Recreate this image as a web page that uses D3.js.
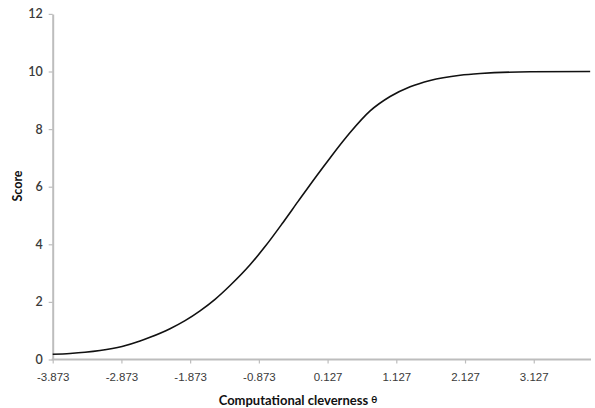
<!DOCTYPE html>
<html>
<head>
<meta charset="utf-8">
<script src="https://cdn.jsdelivr.net/npm/d3@7"></script>
<style>
  html, body { margin: 0; padding: 0; background: #ffffff; }
  svg { display: block; }
</style>
</head>
<body>
<svg id="chart" width="595" height="408"></svg>
<script>
// ---- data ----
const theta = [-3.873, -3.621, -3.403, -3.185, -2.864, -2.602, -2.457, -2.166, -1.947, -1.729,
               -1.511, -1.292, -1.001, -0.783, -0.521, -0.302, -0.026, 0.163, 0.455, 0.746,
               1.037, 1.328, 1.619, 2.056, 2.347, 3.075, 3.948];
const score = [0.18, 0.21, 0.25, 0.31, 0.45, 0.64, 0.77, 1.07, 1.35, 1.69,
               2.09, 2.57, 3.29, 3.92, 4.76, 5.49, 6.40, 7.00, 7.88, 8.63,
               9.13, 9.47, 9.69, 9.87, 9.93, 9.99, 10.00];
const xTickValues = [-3.873, -2.873, -1.873, -0.873, 0.127, 1.127, 2.127, 3.127];
const xTickLabels = ["-3.873", "-2.873", "-1.873", "-0.873", "0.127", "1.127", "2.127", "3.127"];
const yTickValues = [0, 2, 4, 6, 8, 10, 12];
const xTitle = "Computational cleverness";
const xTitleSymbol = "θ";
const yTitle = "Score";

// ---- layout ----
const svg = d3.select("#chart");
const x = d3.scaleLinear().domain([-3.873, 3.96]).range([52.7, 591]);
const y = d3.scaleLinear().domain([0, 12]).range([359.5, 13.9]);
const axisColor = "#bdbdbd";

// x axis
const xAxis = d3.axisBottom(x)
  .tickValues(xTickValues)
  .tickFormat((d, i) => xTickLabels[i])
  .tickSizeInner(4).tickSizeOuter(0).tickPadding(9);
const gx = svg.append("g").attr("transform", `translate(0,${y(0)})`).call(xAxis);
gx.select(".domain").attr("stroke", axisColor).attr("stroke-width", 2)
  .attr("d", `M${x(-3.873) - 1},0H${x(3.96)}`);
gx.selectAll(".tick line").attr("stroke", axisColor).attr("stroke-width", 1.2);
gx.selectAll(".tick text")
  .attr("fill", "#3a3a3a")
  .style("font-family", "'Liberation Sans', Arial, sans-serif")
  .style("font-size", "11.5px");

// y axis
const yAxis = d3.axisLeft(y)
  .tickValues(yTickValues)
  .tickFormat(d3.format("d"))
  .tickSizeInner(4).tickSizeOuter(0).tickPadding(6);
const gy = svg.append("g").attr("transform", `translate(${x(-3.873)},0)`).call(yAxis);
gy.select(".domain").attr("stroke", axisColor).attr("stroke-width", 2);
gy.selectAll(".tick line").attr("stroke", axisColor).attr("stroke-width", 1.2);
gy.selectAll(".tick text")
  .attr("fill", "#3a3a3a")
  .style("font-family", "Lato, 'Open Sans', sans-serif")
  .style("font-weight", "600")
  .style("font-size", "12.5px");

// curve
const line = d3.line()
  .x((d, i) => x(theta[i]))
  .y((d, i) => y(score[i]))
  .curve(d3.curveMonotoneX);
svg.append("path")
  .datum(score)
  .attr("d", line)
  .attr("fill", "none")
  .attr("stroke", "#111111")
  .attr("stroke-width", 1.6);

// titles
const xt = svg.append("text")
  .attr("x", 298).attr("y", 405)
  .attr("text-anchor", "middle")
  .style("font-family", "Lato, 'Open Sans', sans-serif")
  .style("font-weight", "bold")
  .style("font-size", "13px")
  .attr("fill", "#111");
xt.append("tspan").text(xTitle + " ");
xt.append("tspan").text(xTitleSymbol).style("font-size", "10px").attr("dy", -2);

svg.append("text")
  .attr("transform", "translate(22,186) rotate(-90)")
  .attr("text-anchor", "middle")
  .style("font-family", "Lato, 'Open Sans', sans-serif")
  .style("font-weight", "bold")
  .style("font-size", "12.5px")
  .attr("fill", "#111")
  .text(yTitle);
</script>
</body>
</html>
